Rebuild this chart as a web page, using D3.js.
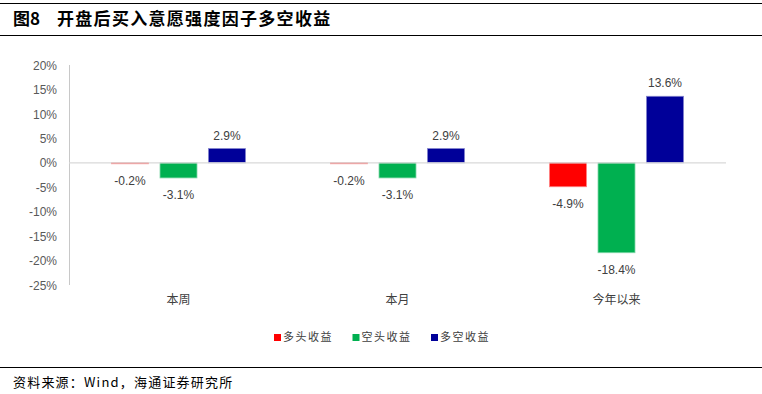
<!DOCTYPE html>
<html><head><meta charset="utf-8">
<script src="https://cdn.jsdelivr.net/npm/d3@7"></script>
<style>
body{margin:0;background:#fff;}
svg{display:block;}
</style></head>
<body>
<svg id="c" width="762" height="394"></svg>
<script>
const categories = ["本周", "本月", "今年以来"];
const seriesNames = ["多头收益", "空头收益", "多空收益"];
const longRet = [-0.2, -0.2, -4.9];
const shortRet = [-3.1, -3.1, -18.4];
const lsRet = [2.9, 2.9, 13.6];
const yTicks = [20, 15, 10, 5, 0, -5, -10, -15, -20, -25];
const colors = ["#FF0000", "#00B050", "#000099"];
const strokes = ["#FF8080", "#80D8A8", "#8080CC"];

const series = [longRet, shortRet, lsRet];
const svg = d3.select("#c");
const font = "Arial, 'Liberation Sans', 'Noto Sans CJK SC', sans-serif";
const cjk = "'Noto Sans CJK SC', sans-serif";

// title + rules
svg.append("line").attr("x1",0).attr("x2",762).attr("y1",3.5).attr("y2",3.5).attr("stroke","#000").attr("stroke-width",1.2);
svg.append("line").attr("x1",0).attr("x2",762).attr("y1",35.5).attr("y2",35.5).attr("stroke","#000").attr("stroke-width",1.2);
svg.append("text").attr("x",13).attr("y",25).attr("font-family",cjk).attr("font-weight","bold").attr("font-size",17).attr("fill","#000")
  .text("图8");
svg.append("text").attr("x",57).attr("y",25).attr("font-family",cjk).attr("font-weight","bold").attr("font-size",17).attr("fill","#000")
  .attr("letter-spacing",1.3).text("开盘后买入意愿强度因子多空收益");
svg.append("line").attr("x1",0).attr("x2",762).attr("y1",367.5).attr("y2",367.5).attr("stroke","#000").attr("stroke-width",1.2);
svg.append("text").attr("x",13).attr("y",387).attr("font-family",cjk).attr("font-size",13).attr("fill","#000")
  .attr("letter-spacing",1.2).text("资料来源：Wind，海通证券研究所");

const x0 = 69, x1 = 726;
const y = d3.scaleLinear().domain([-25, 20]).range([285, 65]);
const xb = d3.scaleBand().domain(categories).range([x0, x1]).padding(0);
const barW = 38, step = 48.5;
const xs = d3.scaleBand().domain(d3.range(3)).range([-(step*3-(step-barW))/2, (step*3-(step-barW))/2]).paddingInner((step-barW)/step).paddingOuter(0);

// y axis
const yAxis = d3.axisLeft(y).tickValues(yTicks).tickSize(0).tickPadding(12).tickFormat(d => d + "%");
const ga = svg.append("g").attr("transform", `translate(${x0},0)`).call(yAxis);
ga.select(".domain").attr("stroke","#c8c8c8").attr("d", `M0.5,${y(20)}V${y(-25)}`);
ga.selectAll("text").attr("font-family",font).attr("font-size",12).attr("fill","#595959").attr("dy","0.35em");

// bars
categories.forEach((cat, ci) => {
  const cx = xb(cat) + xb.bandwidth()/2;
  series.forEach((s, si) => {
    const v = s[ci];
    const bx = cx + xs(si);
    const top = v >= 0 ? y(v) : y(0);
    const h = Math.abs(y(v) - y(0));
    svg.append("rect").attr("x", bx+0.5).attr("y", top).attr("width", xs.bandwidth()-1).attr("height", Math.max(h,0.8))
      .attr("fill", colors[si]).attr("stroke", strokes[si]).attr("stroke-width", 0.8);
    svg.append("text").attr("x", bx + xs.bandwidth()/2)
      .attr("y", v >= 0 ? y(v) - 13 : y(v) + 17)
      .attr("dy","0.35em").attr("text-anchor","middle")
      .attr("font-family",font).attr("font-size",12).attr("fill","#404040")
      .text(v.toFixed(1) + "%");
  });
  svg.append("text").attr("x", cx).attr("y", 300).attr("dy","0.35em").attr("text-anchor","middle")
    .attr("font-family",cjk).attr("font-size",12).attr("fill","#404040").text(cat);
});

// zero line
svg.append("line").attr("x1", x0).attr("x2", x1).attr("y1", y(0)).attr("y2", y(0)).attr("stroke","#d9d9d9").attr("stroke-width",1.2);

// legend
const legX = [274, 352.5, 431];
seriesNames.forEach((n, i) => {
  svg.append("rect").attr("x", legX[i]).attr("y", 334).attr("width", 7).attr("height", 7).attr("fill", colors[i]);
  svg.append("text").attr("x", legX[i] + 9).attr("y", 337.5).attr("dy","0.35em")
    .attr("font-family",cjk).attr("font-size",11).attr("fill","#404040")
    .attr("letter-spacing", 1.5).text(n);
});
</script>
</body></html>
